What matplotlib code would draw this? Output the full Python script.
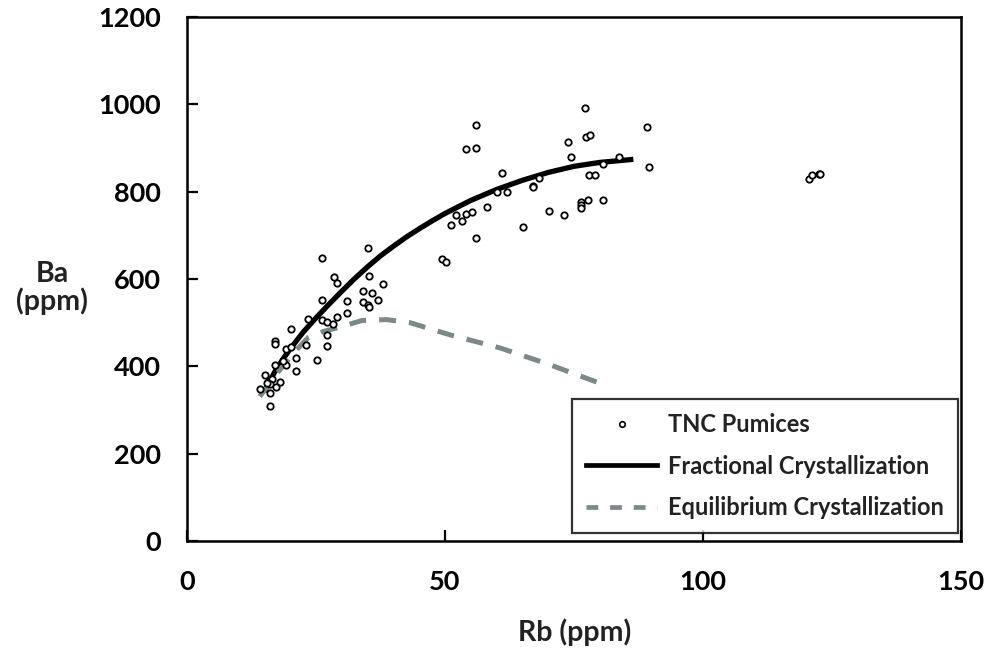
import matplotlib
matplotlib.use("Agg")
import matplotlib.pyplot as plt
from matplotlib.lines import Line2D

# TNC pumice samples
rb_pumice = [26.2, 35.1, 28.4, 29.1, 35.3, 38.0, 34.1, 35.8, 37.1, 34.1, 35.1, 35.2,
             26.2, 31.1, 31.1, 29.1, 23.4, 26.2, 27.1, 28.2, 20.2, 27.1, 17.1, 17.1,
             23.1, 27.1, 19.1, 20.2, 21.2, 25.1, 17.1, 19.2, 18.7, 21.2, 15.2, 15.8,
             16.4, 18.0, 17.2, 16.1, 14.1, 16.1, 16.1, 15.6,
             77.1, 56.1, 89.1, 77.4, 78.1, 73.8, 54.1, 56.1, 74.4, 83.7, 80.6, 89.6,
             61.0, 78.0, 79.1, 68.2, 67.1, 67.1, 60.1, 62.1, 58.1, 52.1, 54.1, 55.2,
             51.1, 53.2, 70.1, 73.0, 76.3, 76.4, 76.4, 77.8, 80.7, 65.1, 56.1, 49.5,
             50.1, 120.5, 121.2, 122.5, 122.7]
ba_pumice = [647, 670, 604, 590, 608, 589, 572, 567, 552, 548, 540, 537,
             551, 550, 521, 514, 508, 505, 501, 497, 486, 471, 458, 450,
             448, 446, 440, 444, 420, 415, 404, 404, 412, 389, 381, 367,
             370, 363, 353, 359, 349, 338, 310, 362,
             991, 953, 949, 926, 929, 914, 898, 899, 879, 879, 863, 856,
             843, 839, 839, 832, 813, 810, 799, 799, 766, 747, 749, 753,
             724, 733, 756, 746, 776, 770, 763, 780, 781, 719, 693, 645,
             640, 830, 837, 840, 841]

# Fractional crystallization model
rb_frac = [15.0, 16.0, 17.0, 18.5, 20.0, 22.5, 25.0, 27.5, 30.0, 32.5, 35.0, 37.5,
           40.0, 42.5, 45.0, 47.5, 50.0, 55.0, 60.0, 65.0, 70.0, 75.0, 80.0, 86.5]
ba_frac = [342, 365, 387, 415, 440, 478, 511, 542, 572, 601, 628, 653,
           675, 696, 715, 733, 750, 780, 805, 826, 844, 858, 867, 874]

# Equilibrium crystallization model
rb_eq = [14.1, 18.0, 20.6, 23.5, 26.5, 29.7, 33.9, 38.7, 43.2, 51.0, 60.7, 70.0, 81.0]
ba_eq = [331, 392, 430, 466, 480, 490, 505, 507, 500, 472, 442, 405, 357]

x_ticks = [0, 50, 100, 150]
y_ticks = [0, 200, 400, 600, 800, 1000, 1200]

FONT = "Lato"
eq_color = "#7d8989"

fig = plt.figure(figsize=(9.93, 6.53), dpi=100)
ax = fig.add_axes([0.1883, 0.1715, 0.7795, 0.8025])

ax.plot(rb_frac, ba_frac, color="black", lw=3.8, solid_capstyle="butt",
        solid_joinstyle="round", zorder=2)
ax.plot(rb_eq, ba_eq, color=eq_color, lw=3.6, dashes=(3.4, 2.6), zorder=2)
ax.plot(rb_pumice, ba_pumice, linestyle="none", marker="o", ms=4.6,
        mfc="white", mec="black", mew=1.3, zorder=3)

ax.set_xlim(0, 150)
ax.set_ylim(0, 1200)
ax.set_xticks(x_ticks)
ax.set_yticks(y_ticks)
ax.tick_params(direction="in", length=8, width=1.6, colors="black")
ax.tick_params(axis="x", pad=21)
ax.tick_params(axis="y", pad=19)
for lab in ax.get_xticklabels() + ax.get_yticklabels():
    lab.set_fontfamily(FONT)
    lab.set_fontweight("bold")
    lab.set_fontsize(19.5)
for sp in ax.spines.values():
    sp.set_linewidth(1.8)
    sp.set_color("black")

fig.text(0.5785, 1 - 632 / 653, "Rb (ppm)", ha="center", va="center",
         fontfamily=FONT, fontweight="bold", fontsize=20.5, color="#222222")
fig.text(52 / 993, 1 - 288 / 653, "Ba\n(ppm)", ha="center", va="center",
         fontfamily=FONT, fontweight="bold", fontsize=20.5, color="#222222",
         linespacing=1.05)

handles = [
    Line2D([], [], linestyle="none", marker="o", ms=4.0, mfc="white", mec="black", mew=1.2),
    Line2D([], [], color="black", lw=3.4),
    Line2D([], [], color=eq_color, lw=3.4, dashes=(2.5, 2.5)),
]
labels = ["TNC Pumices", "Fractional Crystallization", "Equilibrium Crystallization"]
leg = ax.legend(handles, labels, loc="lower right", bbox_to_anchor=(0.996, 0.015),
                borderaxespad=0.0, frameon=True, fancybox=False, borderpad=0.6,
                labelspacing=0.78, handlelength=3.0, handletextpad=0.45,
                prop={"family": FONT, "weight": "bold", "size": 17})
leg.get_frame().set_edgecolor("black")
leg.get_frame().set_linewidth(1.6)
for t in leg.get_texts():
    t.set_color("#222222")

fig.savefig("out.png", dpi=100)
